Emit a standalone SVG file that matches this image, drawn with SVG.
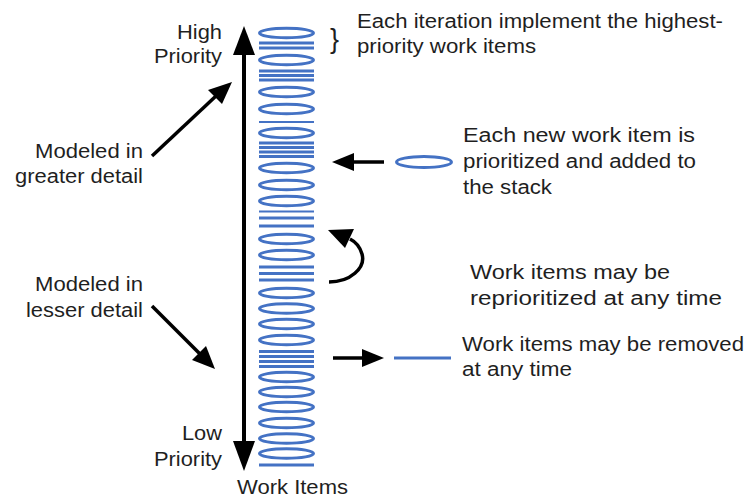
<svg xmlns="http://www.w3.org/2000/svg" width="747" height="498" viewBox="0 0 747 498">
<style>
text{font-family:"Liberation Sans",Arial,sans-serif;font-size:19.5px;fill:#1f1f1f}
.e{fill:none;stroke:#4472c4;stroke-width:3}
.l{stroke:#4472c4;stroke-width:3}
.c{stroke:#000;stroke-width:4;fill:none}
.h{fill:#000}
</style>
<rect width="747" height="498" fill="#fff"/>
<g id="stack">
<ellipse class="e" cx="286.5" cy="33" rx="27" ry="4.8"/>
<line class="l" x1="259" y1="43" x2="314" y2="43"/>
<line class="l" x1="259" y1="48" x2="314" y2="48"/>
<ellipse class="e" cx="286.5" cy="60" rx="27" ry="4.8"/>
<line class="l" x1="259" y1="71" x2="314" y2="71"/>
<line class="l" x1="259" y1="75.5" x2="314" y2="75.5"/>
<line class="l" x1="259" y1="80" x2="314" y2="80"/>
<ellipse class="e" cx="286.5" cy="92" rx="27" ry="4.8"/>
<ellipse class="e" cx="286.5" cy="109" rx="27" ry="4.8"/>
<line class="l" x1="259" y1="122" x2="314" y2="122" style="stroke-width:2"/>
<ellipse class="e" cx="286.5" cy="133" rx="27" ry="4.8"/>
<line class="l" x1="259" y1="143" x2="314" y2="143"/>
<line class="l" x1="259" y1="147.5" x2="314" y2="147.5"/>
<line class="l" x1="259" y1="152" x2="314" y2="152"/>
<line class="l" x1="259" y1="156.5" x2="314" y2="156.5"/>
<ellipse class="e" cx="286.5" cy="168" rx="27" ry="4.8"/>
<ellipse class="e" cx="286.5" cy="185" rx="27" ry="4.8"/>
<ellipse class="e" cx="286.5" cy="201" rx="27" ry="4.8"/>
<line class="l" x1="259" y1="211.5" x2="314" y2="211.5" style="stroke-width:2"/>
<line class="l" x1="259" y1="218" x2="314" y2="218"/>
<line class="l" x1="259" y1="226" x2="314" y2="226"/>
<ellipse class="e" cx="286.5" cy="239" rx="27" ry="4.8"/>
<ellipse class="e" cx="286.5" cy="255" rx="27" ry="4.8"/>
<line class="l" x1="259" y1="267" x2="314" y2="267"/>
<line class="l" x1="259" y1="273.5" x2="314" y2="273.5"/>
<line class="l" x1="259" y1="280" x2="314" y2="280"/>
<ellipse class="e" cx="286.5" cy="293" rx="27" ry="4.8"/>
<ellipse class="e" cx="286.5" cy="308.5" rx="27" ry="4.8"/>
<ellipse class="e" cx="286.5" cy="324" rx="27" ry="4.8"/>
<ellipse class="e" cx="286.5" cy="340" rx="27" ry="4.8"/>
<line class="l" x1="259" y1="351.5" x2="314" y2="351.5"/>
<line class="l" x1="259" y1="356.5" x2="314" y2="356.5"/>
<line class="l" x1="259" y1="361.5" x2="314" y2="361.5"/>
<line class="l" x1="259" y1="366.5" x2="314" y2="366.5"/>
<ellipse class="e" cx="286.5" cy="377" rx="27" ry="4.8"/>
<ellipse class="e" cx="286.5" cy="392" rx="27" ry="4.8"/>
<ellipse class="e" cx="286.5" cy="407" rx="27" ry="4.8"/>
<ellipse class="e" cx="286.5" cy="423" rx="27" ry="4.8"/>
<ellipse class="e" cx="286.5" cy="438.5" rx="27" ry="4.8"/>
<ellipse class="e" cx="286.5" cy="453.5" rx="27" ry="4.8"/>
<line class="l" x1="259" y1="465" x2="314" y2="465"/>
</g>
<g id="new-item">
<ellipse class="e" cx="424" cy="162" rx="27.5" ry="5.5"/>
</g>
<g id="removed-item">
<line class="l" x1="394" y1="358" x2="451" y2="358"/>
</g>
<g id="connectors">
<line class="c" x1="244" y1="50" x2="244" y2="446"/>
<polygon class="h" points="244,26 255,55 233,55"/>
<polygon class="h" points="244,471 233,441 255,441"/>
<line class="c" x1="152" y1="156" x2="216" y2="96" style="stroke-width:3.5"/>
<polygon class="h" points="232,82 222,104 208,90"/>
<line class="c" x1="152" y1="306" x2="200" y2="354" style="stroke-width:3.5"/>
<polygon class="h" points="215,369 192,360 206,346"/>
<line class="c" x1="384" y1="162" x2="350" y2="162" style="stroke-width:3.5"/>
<polygon class="h" points="332,162 354,153 354,171"/>
<line class="c" x1="333" y1="358" x2="366" y2="358" style="stroke-width:3.5"/>
<polygon class="h" points="384,358 362,349 362,367"/>
<path class="c" d="M329 282 C350 282 366 268 362 254 C360 247 356 242 350 239" style="stroke-width:3.5"/>
<polygon class="h" points="328,230 354,229 345,248"/>
</g>
<g id="label-high"><text x="177" y="39" textLength="45" lengthAdjust="spacingAndGlyphs">High</text><text x="154" y="63" textLength="68" lengthAdjust="spacingAndGlyphs">Priority</text></g>
<g id="label-low"><text x="182" y="440" textLength="40" lengthAdjust="spacingAndGlyphs">Low</text><text x="154" y="466" textLength="68" lengthAdjust="spacingAndGlyphs">Priority</text></g>
<g id="label-greater"><text x="35" y="158" textLength="108" lengthAdjust="spacingAndGlyphs">Modeled in</text><text x="15" y="183" textLength="128" lengthAdjust="spacingAndGlyphs">greater detail</text></g>
<g id="label-lesser"><text x="35" y="291" textLength="108" lengthAdjust="spacingAndGlyphs">Modeled in</text><text x="26" y="317" textLength="117" lengthAdjust="spacingAndGlyphs">lesser detail</text></g>
<g id="label-work-items"><text x="237" y="494" textLength="111" lengthAdjust="spacingAndGlyphs">Work Items</text></g>
<g id="label-iteration"><text x="330" y="48" style="font-size:27px">}</text><text x="357" y="28" textLength="366" lengthAdjust="spacingAndGlyphs">Each iteration implement the highest-</text><text x="357" y="53" textLength="179" lengthAdjust="spacingAndGlyphs">priority work items</text></g>
<g id="label-new"><text x="463" y="142" textLength="232" lengthAdjust="spacingAndGlyphs">Each new work item is</text><text x="463" y="168" textLength="233" lengthAdjust="spacingAndGlyphs">prioritized and added to</text><text x="463" y="194" textLength="89" lengthAdjust="spacingAndGlyphs">the stack</text></g>
<g id="label-reprioritized"><text x="470" y="279" textLength="200" lengthAdjust="spacingAndGlyphs">Work items may be</text><text x="470" y="305" textLength="252" lengthAdjust="spacingAndGlyphs">reprioritized at any time</text></g>
<g id="label-removed"><text x="462" y="351" textLength="282" lengthAdjust="spacingAndGlyphs">Work items may be removed</text><text x="462" y="376" textLength="110" lengthAdjust="spacingAndGlyphs">at any time</text></g>
</svg>
